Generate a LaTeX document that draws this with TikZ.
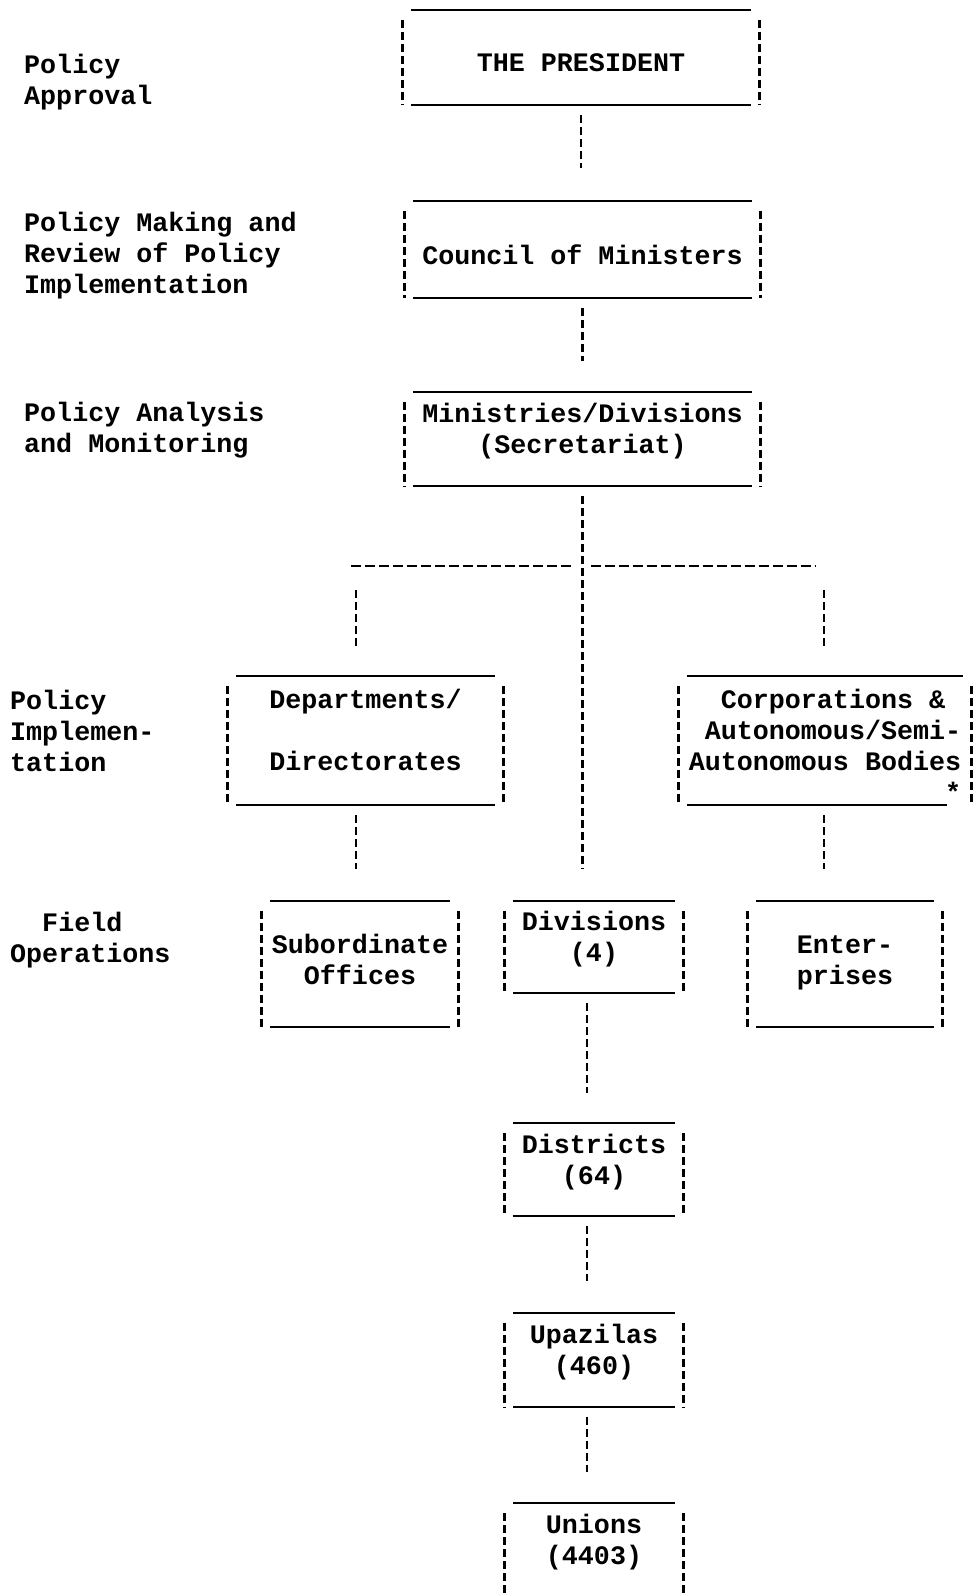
\documentclass[tikz,border=0pt]{standalone}
\usepackage{fontspec}
\setmainfont{Liberation Mono}
\tikzset{
  tbox/.style={inner sep=0pt, align=center},
  lbl/.style={anchor=west, align=left, inner sep=0pt},
  boxrule/.style={line width=2pt},
  boxside/.style={line width=2.7pt, dash pattern=on 8pt off 4pt},
  conn/.style={line width=2.6pt, dash pattern=on 8pt off 4pt},
  hconn/.style={line width=2.4pt, dash pattern=on 10pt off 4pt},
}
% top and bottom ruled, sides dashed (node reaches 10pt below the bottom rule)
\newcommand{\tframe}[1]{%
  \draw[boxrule] ([xshift=8pt]#1.north west) -- ([xshift=-8pt]#1.north east);
  \draw[boxrule] ([shift={(8pt,10pt)}]#1.south west) -- ([shift={(-8pt,10pt)}]#1.south east);
  \draw[boxside] ([yshift=-10pt]#1.north west) -- ([yshift=10pt]#1.south west);
  \draw[boxside] ([yshift=-10pt]#1.north east) -- ([yshift=10pt]#1.south east);
}
\begin{document}
\begin{tikzpicture}[x=1pt, y=-1pt, every node/.style={font=\fontsize{26.7}{31}\selectfont\bfseries}]
\useasboundingbox (0,0) rectangle (973,1595);

% levels
\node[lbl] (lapp) at (24,82) {Policy\\Approval};
\node[lbl] (lmak) at (24,256) {Policy Making and\\Review of Policy\\Implementation};
\node[lbl] (lana) at (24,430) {Policy Analysis\\and Monitoring};
\node[lbl] (limp) at (10,731) {Policy\\Implemen-\\tation};
\node[lbl] (lfie) at (10,940) {\hspace*{1.2em}Field\\Operations};

% boxes
\node[tbox, minimum width=356pt, minimum height=105pt] (pres) at (581,62.5) {THE PRESIDENT};
\node[tbox, minimum width=355pt, minimum height=107pt] (council) at (582.5,254.5) {Council of Ministers};
\node[tbox, minimum width=355pt, minimum height=104pt] (minis) at (582.5,444) {Ministries/Divisions\\(Secretariat)\\~};
\node[tbox, minimum width=275pt, minimum height=139pt] (dept) at (365.5,745.5) {Departments/\\~\\Directorates\\~};
\node[tbox, align=left, minimum width=292pt, minimum height=139pt] (corp) at (825,745.5) {\hspace*{1.2em}Corporations \&\\\hspace*{0.6em}Autonomous/Semi-\\Autonomous Bodies\\\makebox[10.2em][r]{*}};
\node[tbox, minimum width=196pt, minimum height=136pt] (subord) at (360,969) {~\\Subordinate\\Offices\\~};
\node[tbox, minimum width=178pt, minimum height=102pt] (divis) at (594,952) {Divisions\\(4)\\~};
\node[tbox, minimum width=194pt, minimum height=136pt] (enter) at (845,969) {~\\Enter-\\prises\\~};
\node[tbox, minimum width=178pt, minimum height=103pt] (distr) at (594,1174.5) {Districts\\(64)\\~};
\node[tbox, minimum width=178pt, minimum height=104pt] (upaz) at (594,1365) {Upazilas\\(460)\\~};
\node[tbox, minimum width=178pt, minimum height=104pt] (unions) at (594,1555) {Unions\\(4403)\\~};

\tframe{pres}
\tframe{council}
\tframe{minis}
\tframe{dept}
\tframe{subord}
\tframe{divis}
\tframe{enter}
\tframe{distr}
\tframe{upaz}
% corp: bottom rule stops short of the star
\draw[boxrule] ([xshift=8pt]corp.north west) -- ([xshift=-8pt]corp.north east);
\draw[boxrule] ([shift={(8pt,10pt)}]corp.south west) -- ([shift={(-24pt,10pt)}]corp.south east);
\draw[boxside] ([yshift=-10pt]corp.north west) -- ([yshift=10pt]corp.south west);
\draw[boxside] ([yshift=-10pt]corp.north east) -- ([yshift=10pt]corp.south east);
% unions runs off the page
\draw[boxrule] ([xshift=8pt]unions.north west) -- ([xshift=-8pt]unions.north east);
\draw[boxside] ([yshift=-10pt]unions.north west) -- ([yshift=10pt]unions.south west);
\draw[boxside] ([yshift=-10pt]unions.north east) -- ([yshift=10pt]unions.south east);

% connectors
\coordinate (bl) at (356,566);
\coordinate (br) at (824,566);
\coordinate (bm) at (bl -| minis.south);
\coordinate (sp) at (587,0);

\draw[conn, shorten >=33pt] (pres.south) -- (pres.south |- council.north);
\draw[conn, shorten >=31pt] (council.south) -- (council.south |- minis.north);
\draw[conn, shorten >=32pt] (minis.south) -- (minis.south |- divis.north);
\draw[hconn] ([xshift=-5pt]bl) -- ([xshift=-8pt]bm);
\draw[hconn, shorten >=8pt] ([xshift=8pt]bm) -- (br);
\draw[conn, shorten <=24pt, shorten >=30pt] (bl) -- (bl |- dept.north);
\draw[conn, shorten <=24pt, shorten >=30pt] (br) -- (br |- corp.north);
\draw[conn, shorten >=32pt] (bl |- dept.south) -- (bl |- subord.north);
\draw[conn, shorten >=32pt] (br |- corp.south) -- (br |- enter.north);
\draw[conn, shorten >=30pt] (divis.south -| sp) -- (distr.north -| sp);
\draw[conn, shorten >=32pt] (distr.south -| sp) -- (upaz.north -| sp);
\draw[conn, shorten >=31pt] (upaz.south -| sp) -- (unions.north -| sp);
\end{tikzpicture}
\end{document}
